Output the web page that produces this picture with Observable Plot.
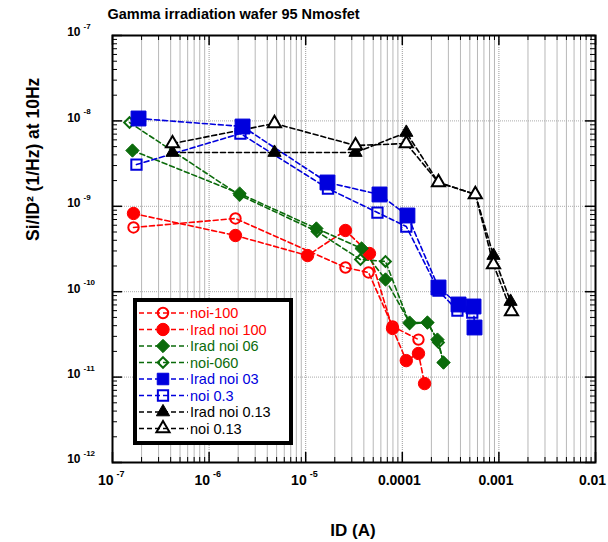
<!DOCTYPE html>
<html>
<head>
<meta charset="utf-8">
<script src="https://cdn.jsdelivr.net/npm/d3@7"></script>
<script src="https://cdn.jsdelivr.net/npm/@observablehq/plot@0.6"></script>
<style>
html,body{margin:0;padding:0;background:#fff;overflow:hidden;}
#chart{width:608px;height:542px;}
</style>
</head>
<body>
<div id="chart"></div>
<script>
// ---- Data ----
const titleText = "Gamma irradiation wafer 95 Nmosfet";
const xLabel = "ID (A)";
const yLabel = "Si/ID² (1/Hz) at 10Hz";

const seriesNames = ["noi-100","Irad noi 100","Irad noi 06","noi-060","Irad noi 03","noi 0.3","Irad noi 0.13","noi 0.13"];
const seriesColors = ["#ff0000","#ff0000","#0b6b0b","#0b6b0b","#0000dd","#0000dd","#000000","#000000"];
const seriesSymbols = ["circle","circle","diamond2","diamond2","square","square","triangle","triangle"];
const seriesFilled = [false,true,true,false,true,false,true,false];

const noi100_x = [1.65e-7, 1.875e-6, 2.58e-5, 4.47e-5, 7.93e-5, 1.47e-4];
const noi100_y = [5.65e-10, 7.2e-10, 1.92e-10, 1.68e-10, 3.92e-11, 2.75e-11];

const iradNoi100_x = [1.65e-7, 1.875e-6, 1.045e-5, 2.58e-5, 4.57e-5, 7.93e-5, 1.10e-4, 1.47e-4, 1.70e-4];
const iradNoi100_y = [8.24e-10, 4.55e-10, 2.65e-10, 5.21e-10, 2.80e-10, 3.71e-11, 1.56e-11, 1.89e-11, 8.4e-12];

const iradNoi06_x = [1.61e-7, 2.07e-6, 1.29e-5, 3.79e-5, 6.70e-5, 1.19e-4, 1.82e-4, 2.31e-4, 2.67e-4];
const iradNoi06_y = [4.5e-9, 1.41e-9, 5.5e-10, 3.21e-10, 1.39e-10, 4.35e-11, 4.35e-11, 2.75e-11, 1.48e-11];

const noi060_x = [1.5e-7, 2.07e-6, 1.31e-5, 3.69e-5, 6.70e-5, 1.19e-4, 1.82e-4, 2.37e-4, 2.67e-4];
const noi060_y = [9.57e-9, 1.35e-9, 5.07e-10, 2.38e-10, 2.26e-10, 4.2e-11, 4.35e-11, 2.54e-11, 1.48e-11];

const iradNoi03_x = [1.86e-7, 2.22e-6, 1.68e-5, 5.81e-5, 1.13e-4, 2.37e-4, 3.82e-4, 5.46e-4, 5.59e-4];
const iradNoi03_y = [1.067e-8, 8.59e-9, 1.90e-9, 1.375e-9, 7.8e-10, 1.12e-10, 7.08e-11, 6.71e-11, 3.81e-11];

const noi03_x = [1.77e-7, 2.11e-6, 1.70e-5, 5.53e-5, 1.10e-4, 2.37e-4, 3.72e-4, 5.3e-4];
const noi03_y = [3.08e-9, 7.11e-9, 1.61e-9, 8.45e-10, 5.8e-10, 1.03e-10, 6.02e-11, 5.7e-11];

const iradNoi013_x = [4.18e-7, 4.75e-6, 3.28e-5, 1.10e-4, 2.37e-4, 5.7e-4, 8.79e-4, 1.32e-3];
const iradNoi013_y = [4.26e-9, 4.26e-9, 4.26e-9, 7.31e-9, 1.9e-9, 1.38e-9, 2.65e-10, 7.67e-11];

const noi013_x = [4.18e-7, 4.75e-6, 3.28e-5, 1.10e-4, 2.37e-4, 5.7e-4, 8.79e-4, 1.35e-3];
const noi013_y = [5.43e-9, 9.33e-9, 5.15e-9, 5.43e-9, 1.9e-9, 1.38e-9, 2.08e-10, 5.86e-11];

const xTickValues = [1e-7, 1e-6, 1e-5, 1e-4, 1e-3, 1e-2];
const xTickBase = ["10","10","10","0.0001","0.001","0.01"];
const xTickExp = ["-7","-6","-5","","",""];
const yTickValues = [1e-7, 1e-8, 1e-9, 1e-10, 1e-11, 1e-12];
const yTickExp = ["-7","-8","-9","-10","-11","-12"];

// ---- Build tables ----
const seriesX = [noi100_x, iradNoi100_x, iradNoi06_x, noi060_x, iradNoi03_x, noi03_x, iradNoi013_x, noi013_x];
const seriesY = [noi100_y, iradNoi100_y, iradNoi06_y, noi060_y, iradNoi03_y, noi03_y, iradNoi013_y, noi013_y];
const markerR = [5.2, 6.2, 6.0, 4.8, 8.4, 5.8, 4.9, 4.9];
const openFill = ["none","","","none","","none","","#fff"];

// minor / major log tick positions
const minorX = [], minorY = [];
for (let e = -7; e < -2; e++) for (let m = 2; m <= 9; m++) minorX.push(m * Math.pow(10, e));
for (let e = -12; e < -7; e++) for (let m = 2; m <= 9; m++) minorY.push(m * Math.pow(10, e));

const fontFam = "'Liberation Sans', Arial, Helvetica, sans-serif";
const W = 608, H = 542, mL = 112, mR = 13, mT = 35, mB = 80;
const fw = W - mL - mR, fh = H - mT - mB;

const marks = [];
// background grid
marks.push(Plot.ruleX(minorX, {x: d => d, stroke: "#b8b8b8", strokeWidth: 1}));
marks.push(Plot.ruleX(xTickValues, {x: d => d, stroke: "#999", strokeWidth: 1, strokeDasharray: "1,1"}));
marks.push(Plot.ruleY(yTickValues, {y: d => d, stroke: "#aaa", strokeWidth: 1, strokeDasharray: "1,1"}));

// data series
seriesNames.forEach((name, i) => {
  const rows = seriesX[i].map((x, j) => ({x, y: seriesY[i][j]}));
  marks.push(Plot.line(rows, {x: "x", y: "y", stroke: seriesColors[i], strokeWidth: 1.6, strokeDasharray: "5,3"}));
});
seriesNames.forEach((name, i) => {
  const rows = seriesX[i].map((x, j) => ({x, y: seriesY[i][j]}));
  marks.push(Plot.dot(rows, {
    x: "x", y: "y", symbol: () => seriesSymbols[i], r: markerR[i],
    fill: seriesFilled[i] ? seriesColors[i] : openFill[i],
    stroke: seriesColors[i], strokeWidth: seriesFilled[i] ? 1 : 2
  }));
});

// inward ticks
marks.push(Plot.tickX(minorX, {x: d => d, insetTop: fh - 5, stroke: "#000", strokeWidth: 1}));
marks.push(Plot.tickX(minorX, {x: d => d, insetBottom: fh - 5, stroke: "#000", strokeWidth: 1}));
marks.push(Plot.tickX(xTickValues, {x: d => d, insetTop: fh - 10, stroke: "#000", strokeWidth: 1.5}));
marks.push(Plot.tickX(xTickValues, {x: d => d, insetBottom: fh - 10, stroke: "#000", strokeWidth: 1.5}));
marks.push(Plot.tickY(minorY, {y: d => d, insetRight: fw - 5, stroke: "#000", strokeWidth: 1}));
marks.push(Plot.tickY(minorY, {y: d => d, insetLeft: fw - 5, stroke: "#000", strokeWidth: 1}));
marks.push(Plot.tickY(yTickValues, {y: d => d, insetRight: fw - 10, stroke: "#000", strokeWidth: 1.5}));
marks.push(Plot.tickY(yTickValues, {y: d => d, insetLeft: fw - 10, stroke: "#000", strokeWidth: 1.5}));
marks.push(Plot.frame({stroke: "#000", strokeWidth: 2}));

// tick labels
const xt = xTickValues.map((v, i) => ({v, b: xTickBase[i], e: xTickExp[i]}));
marks.push(Plot.text(xt.filter(d => d.e), {x: "v", frameAnchor: "bottom", text: "b", textAnchor: "end", dx: 1, dy: 22, fontSize: 14, fontWeight: "bold", fill: "#000"}));
marks.push(Plot.text(xt.filter(d => d.e), {x: "v", frameAnchor: "bottom", text: "e", textAnchor: "start", dx: 4, dy: 14, fontSize: 9, fontWeight: "bold", fill: "#000"}));
marks.push(Plot.text(xt.filter(d => !d.e), {x: "v", frameAnchor: "bottom", text: "b", textAnchor: "middle", dx: -3, dy: 22, fontSize: 14, fontWeight: "bold", fill: "#000"}));
const yt = yTickValues.map((v, i) => ({v, e: yTickExp[i]}));
marks.push(Plot.text(yt, {y: "v", frameAnchor: "left", text: () => "10", textAnchor: "end", dx: -32, dy: -3, fontSize: 12, fontWeight: "bold", fill: "#000"}));
marks.push(Plot.text(yt, {y: "v", frameAnchor: "left", text: "e", textAnchor: "start", dx: -29, dy: -9, fontSize: 8, fontWeight: "bold", fill: "#000"}));

// titles
marks.push(Plot.text([titleText], {frameAnchor: "top-left", dx: 121, dy: -27, text: d => d, textAnchor: "middle", fontSize: 14.5, fontWeight: "bold", fill: "#000"}));
marks.push(Plot.text([xLabel], {frameAnchor: "bottom", dx: -1, dy: 73, text: d => d, fontSize: 17, fontWeight: "bold", fill: "#000"}));
marks.push(Plot.text([yLabel], {frameAnchor: "left", dx: -79, dy: -8, rotate: -90, text: d => d, fontSize: 17.5, fontWeight: "bold", fill: "#000"}));

const chart = Plot.plot({
  width: W, height: H,
  marginLeft: mL, marginRight: mR, marginTop: mT, marginBottom: mB,
  x: {type: "log", domain: [1e-7, 1e-2], axis: null},
  y: {type: "log", domain: [1e-12, 1e-7], axis: null},
  style: {fontFamily: fontFam, background: "#fff", overflow: "visible"},
  marks
});
document.getElementById("chart").appendChild(chart);

// ---- Legend ----
const svg = d3.select(chart);
const lg = svg.append("g").attr("text-anchor", "start");
lg.append("rect").attr("x", 135).attr("y", 300).attr("width", 156).attr("height", 143)
  .attr("fill", "#fff").attr("stroke", "#000").attr("stroke-width", 4);
const symMap = {circle: d3.symbolCircle, square: d3.symbolSquare, diamond2: d3.symbolDiamond2, triangle: d3.symbolTriangle};
seriesNames.forEach((name, i) => {
  const y = 313 + i * 16.5;
  lg.append("line").attr("x1", 139).attr("x2", 188).attr("y1", y).attr("y2", y)
    .attr("stroke", seriesColors[i]).attr("stroke-width", 1.6).attr("stroke-dasharray", "5,3");
  const r = Math.min(markerR[i], 6.5);
  lg.append("path").attr("transform", `translate(163,${y})`)
    .attr("d", d3.symbol(symMap[seriesSymbols[i]], Math.PI * r * r)())
    .attr("fill", seriesFilled[i] ? seriesColors[i] : "none")
    .attr("stroke", seriesColors[i]).attr("stroke-width", seriesFilled[i] ? 1 : 2);
  lg.append("text").attr("x", 190).attr("y", y + 5).text(name)
    .attr("text-anchor", "start")
    .attr("fill", seriesColors[i]).attr("font-size", 14.5).attr("font-family", fontFam);
});
</script>
</body>
</html>
